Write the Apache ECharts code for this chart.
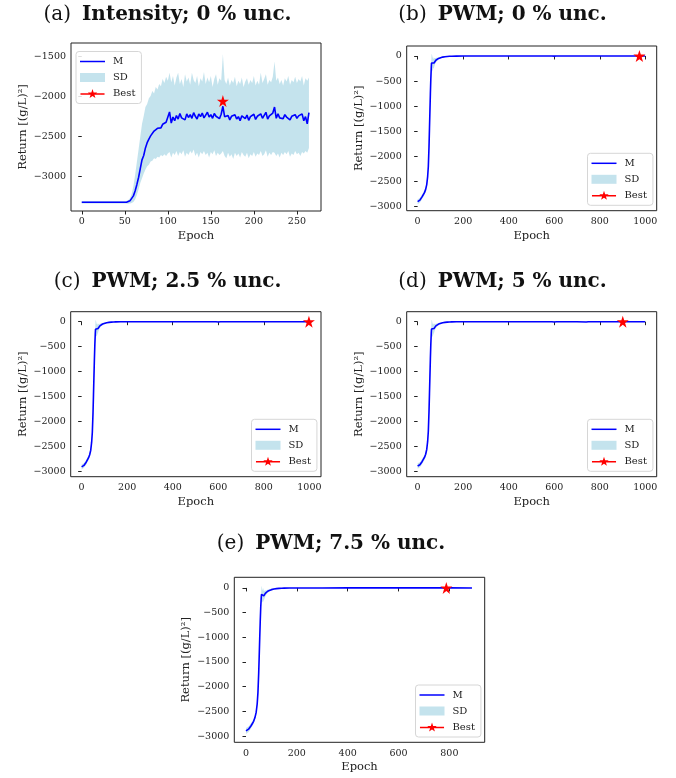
<!DOCTYPE html>
<html><head><meta charset="utf-8">
<script src="https://cdn.jsdelivr.net/npm/echarts@6/dist/echarts.min.js"></script>
<style>html,body{margin:0;padding:0;background:#fff}#c{width:676px;height:778px}</style>
</head><body><div id="c"></div>
<script>
// ---------- Panel (a): Intensity; 0 % unc. ----------
const aEpochs = [
0,2,4,6,8,10,12,14,16,18,20,22,24,26,28,30,32,34,36,38,40,42,44,46,48,50,52,
54,56,58,60,62,64,66,68,70,72,74,76,78,80,82,84,86,88,90,92,94,96,98,100,
102,104,106,108,110,112,114,116,118,120,122,124,126,128,130,132,134,136,138,140,
142,144,146,148,150,152,154,156,158,160,162,164,166,168,170,172,174,176,178,180,
182,184,186,188,190,192,194,196,198,200,202,204,206,208,210,212,214,216,218,220,
222,224,226,228,230,232,234,236,238,240,242,244,246,248,250,252,254,256,258,260,
262,264];
const aMean = [
-3320,-3320,-3320,-3320,-3320,-3320,-3320,-3320,-3320,-3320,-3320,-3320,-3320,-3320,-3320,-3320,-3320,-3320,-3320,-3320,-3320,-3320,-3320,-3320,-3320,-3320,-3320,
-3316,-3302,-3278,-3240,-3180,-3100,-3010,-2900,-2790,-2735,-2640,-2575,-2530,-2490,-2475,-2430,-2440,-2395,-2380,-2390,-2345,-2360,-2320,-2300,
-2190,-2330,-2255,-2300,-2235,-2280,-2210,-2265,-2240,-2290,-2215,-2260,-2225,-2270,-2200,-2245,-2280,-2215,-2250,-2205,
-2265,-2230,-2195,-2255,-2225,-2270,-2210,-2245,-2230,-2275,-2220,-2120,-2250,-2270,-2235,-2290,-2245,-2265,-2225,-2280,
-2250,-2300,-2240,-2260,-2275,-2230,-2295,-2250,-2265,-2220,-2285,-2245,-2260,-2215,-2270,-2250,-2195,-2280,-2240,-2260,
-2205,-2130,-2270,-2215,-2265,-2240,-2275,-2225,-2255,-2230,-2290,-2245,-2260,-2225,-2270,-2240,-2265,-2215,-2300,-2250,
-2340,-2200];
const aUpper = [
-3305,-3305,-3305,-3305,-3305,-3305,-3305,-3305,-3305,-3305,-3305,-3305,-3305,-3305,-3305,-3305,-3305,-3305,-3305,-3305,-3305,-3305,-3305,-3305,-3305,-3305,-3305,
-3295,-3270,-3215,-3120,-2980,-2820,-2660,-2500,-2340,-2240,-2130,-2090,-2020,-1990,-1930,-1960,-1880,-1910,-1840,-1870,-1780,-1830,-1750,-1800,
-1700,-1820,-1740,-1860,-1760,-1700,-1840,-1780,-1880,-1720,-1810,-1760,-1850,-1700,-1790,-1830,-1740,-1870,-1770,-1810,
-1690,-1840,-1760,-1820,-1740,-1880,-1780,-1720,-1850,-1770,-1800,-1470,-1790,-1840,-1760,-1860,-1790,-1830,-1750,-1870,
-1800,-1840,-1760,-1880,-1810,-1770,-1850,-1790,-1830,-1740,-1860,-1800,-1850,-1700,-1830,-1780,-1720,-1850,-1790,-1820,
-1750,-1560,-1800,-1760,-1840,-1790,-1860,-1770,-1810,-1740,-1850,-1790,-1820,-1750,-1830,-1780,-1810,-1740,-1860,-1770,
-1800,-1760];
const aLower = [
-3335,-3335,-3335,-3335,-3335,-3335,-3335,-3335,-3335,-3335,-3335,-3335,-3335,-3335,-3335,-3335,-3335,-3335,-3335,-3335,-3335,-3335,-3335,-3335,-3335,-3335,-3335,
-3338,-3336,-3330,-3315,-3285,-3230,-3160,-3080,-3020,-2960,-2910,-2870,-2850,-2810,-2800,-2770,-2780,-2750,-2760,-2730,-2745,-2720,-2740,-2710,
-2690,-2760,-2700,-2730,-2680,-2740,-2690,-2720,-2670,-2750,-2700,-2730,-2680,-2710,-2660,-2740,-2700,-2760,-2690,-2720,
-2680,-2730,-2700,-2760,-2690,-2720,-2670,-2740,-2700,-2730,-2710,-2680,-2740,-2770,-2700,-2750,-2720,-2780,-2700,-2740,
-2710,-2760,-2690,-2730,-2750,-2700,-2770,-2720,-2740,-2690,-2750,-2710,-2730,-2680,-2740,-2720,-2670,-2750,-2700,-2730,
-2690,-2700,-2740,-2710,-2760,-2700,-2730,-2690,-2720,-2680,-2750,-2710,-2730,-2680,-2720,-2700,-2740,-2690,-2710,-2680,
-2700,-2640];
const aBest = [164, -2055];
const aXTicks = [0, 50, 100, 150, 200, 250];
const aYTicks = [-3000, -2500, -2000, -1500];

// ---------- PWM panels (b), (c), (d) share epoch samples ----------
const pwmEpochs = [0,10,20,30,35,40,44,47,50,52,54,56,58,60,61,62,64,66,68,70,72,74,76,78,80,84,88,92,96,100,110,120,130,140,150,170,200,300,400,500,590,600,610,700,740,750,760,800,900,999];

// (b) PWM; 0 % unc.
const bMean = [-2900,-2870,-2800,-2720,-2660,-2560,-2400,-2200,-1800,-1450,-1100,-750,-450,-220,-140,-120,-150,-160,-140,-150,-140,-120,-105,-95,-85,-70,-58,-48,-40,-33,-22,-14,-9,-6,-4,-2,-1,0,0,0,0,-2,0,0,0,0,0,0,0,0];
const bUpper = [-2850,-2825,-2755,-2675,-2615,-2510,-2345,-2135,-1720,-1370,-1020,-670,-370,-100,30,40,10,-40,-20,-60,-50,-40,-40,-45,-40,-35,-30,-25,-22,-18,-12,-7,-4,-2,-1,0,1,2,2,2,2,2,2,2,2,2,2,2,2,2];
const bLower = [-2950,-2915,-2845,-2765,-2705,-2610,-2455,-2265,-1880,-1530,-1180,-830,-530,-340,-310,-280,-310,-280,-260,-240,-230,-200,-170,-145,-130,-105,-86,-71,-58,-48,-32,-21,-14,-10,-7,-4,-3,-2,-2,-2,-2,-6,-2,-2,-2,-2,-2,-2,-2,-2];
const bBest = [974, 0];

// (c) PWM; 2.5 % unc.
const cMean = [-2905,-2875,-2810,-2725,-2665,-2570,-2410,-2210,-1820,-1470,-1110,-760,-460,-230,-150,-125,-145,-165,-145,-150,-135,-118,-102,-92,-83,-68,-56,-46,-38,-31,-20,-13,-8,-5,-3,-2,-1,0,0,0,0,-6,-1,0,0,0,0,0,0,0];
const cUpper = [-2855,-2830,-2765,-2680,-2620,-2520,-2355,-2145,-1740,-1390,-1030,-680,-380,-110,35,30,0,-50,-30,-60,-50,-45,-40,-45,-40,-34,-29,-24,-21,-17,-11,-6,-3,-2,-1,0,1,2,2,2,2,-1,2,2,2,2,2,2,2,2];
const cLower = [-2955,-2920,-2855,-2770,-2710,-2620,-2465,-2275,-1900,-1550,-1190,-840,-540,-350,-300,-270,-290,-290,-270,-240,-220,-190,-165,-140,-126,-102,-83,-68,-55,-45,-29,-20,-13,-8,-5,-4,-3,-2,-2,-2,-2,-11,-4,-2,-2,-2,-2,-2,-2,-2];
const cBest = [998, 0];

// (d) PWM; 5 % unc.
const dMean = [-2885,-2860,-2795,-2715,-2655,-2555,-2395,-2190,-1790,-1440,-1090,-740,-440,-215,-145,-120,-150,-165,-150,-145,-135,-118,-104,-94,-84,-69,-57,-47,-39,-32,-21,-13,-8,-5,-3,-2,-1,0,0,0,0,-6,-1,0,-6,-1,0,0,0,0];
const dUpper = [-2830,-2810,-2745,-2665,-2605,-2505,-2340,-2125,-1710,-1360,-1010,-660,-360,-90,40,35,5,-45,-30,-55,-50,-42,-40,-44,-40,-34,-29,-24,-21,-17,-11,-6,-3,-2,-1,0,1,2,2,2,2,-1,2,2,-1,2,2,2,2,2];
const dLower = [-2940,-2910,-2845,-2765,-2705,-2605,-2450,-2255,-1870,-1520,-1170,-820,-520,-340,-320,-290,-300,-290,-270,-240,-225,-195,-168,-144,-128,-104,-85,-70,-57,-47,-31,-20,-13,-8,-5,-4,-3,-2,-2,-2,-2,-11,-4,-2,-11,-4,-2,-2,-2,-2];
const dBest = [901, 0];

// (e) PWM; 7.5 % unc.
const eEpochs = [0,10,20,30,35,40,44,47,50,52,54,56,58,60,61,62,64,66,68,70,72,74,76,78,80,84,88,92,96,100,110,120,130,140,150,170,200,300,400,500,600,700,800,889];
const eMean = [-2895,-2860,-2790,-2700,-2630,-2520,-2350,-2120,-1720,-1380,-1020,-680,-390,-190,-130,-125,-155,-150,-140,-160,-145,-125,-110,-98,-88,-72,-60,-50,-42,-35,-23,-15,-10,-7,-5,-3,-2,-1,0,0,0,0,0,-2];
const eUpper = [-2835,-2805,-2740,-2650,-2580,-2470,-2290,-2050,-1640,-1300,-940,-600,-310,-80,40,30,-20,-50,0,-60,-60,-50,-45,-50,-45,-38,-32,-27,-23,-19,-13,-8,-5,-3,-2,-1,0,1,1,1,1,1,1,0];
const eLower = [-2955,-2915,-2840,-2750,-2680,-2570,-2410,-2190,-1800,-1460,-1100,-760,-470,-300,-300,-280,-290,-270,-280,-250,-230,-200,-175,-146,-131,-106,-88,-73,-61,-51,-33,-22,-15,-11,-8,-5,-4,-3,-1,-1,-1,-1,-1,-4];
const eBest = [788, 0];

const pwmXTicks = [0, 200, 400, 600, 800, 1000];
const eXTicks = [0, 200, 400, 600, 800];
const pwmYTicks = [-3000, -2500, -2000, -1500, -1000, -500, 0];

// ---------- chart ----------
const SERIF = '"DejaVu Serif", serif';
const BAND = 'rgba(173,216,230,0.72)';
const LINE = '#0000ff';
const STAR = 'path://M50,0 L61.2,34.5 L97.6,34.5 L68.2,55.9 L79.4,90.5 L50,69.1 L20.6,90.5 L31.8,55.9 L2.4,34.5 L38.8,34.5 Z';
const ICON_M = 'path://M0,0 L30,0 L30,1.8 L0,1.8 Z';
const ICON_BEST = 'path://M0,5.3 L30,5.3 L30,7.1 L0,7.1 Z M15,0 L16.41,4.26 L20.9,4.28 L17.28,6.94 L18.64,11.22 L15,8.6 L11.36,11.22 L12.72,6.94 L9.1,4.28 L13.59,4.26 Z';
const TXT = '#222';

const panels = [
  {label:'(a)', bold:'Intensity; 0 % unc.', tx:167.5, ty:15,
   grid:{left:71, top:43, width:250, height:168}, x:[-12.5, 278], y:[-3429, -1329],
   xt:aXTicks, yt:aYTicks, ep:aEpochs, m:aMean, up:aUpper, lo:aLower, best:aBest, lg:{left:76, top:51.5}},
  {label:'(b)', bold:'PWM; 0 % unc.', tx:502.5, ty:15,
   grid:{left:406.7, top:46, width:250, height:164.7}, x:[-48, 1050], y:[-3080, 199],
   xt:pwmXTicks, yt:pwmYTicks, ep:pwmEpochs, m:bMean, up:bUpper, lo:bLower, best:bBest, lg:{left:587.5, top:153.3}},
  {label:'(c)', bold:'PWM; 2.5 % unc.', tx:167.5, ty:281.7,
   grid:{left:70.7, top:311.7, width:250.3, height:165}, x:[-48, 1051], y:[-3100, 200],
   xt:pwmXTicks, yt:pwmYTicks, ep:pwmEpochs, m:cMean, up:cUpper, lo:cLower, best:cBest, lg:{left:251.5, top:419.3}},
  {label:'(d)', bold:'PWM; 5 % unc.', tx:502.5, ty:281.7,
   grid:{left:406.7, top:311.7, width:250, height:165}, x:[-48, 1050], y:[-3100, 200],
   xt:pwmXTicks, yt:pwmYTicks, ep:pwmEpochs, m:dMean, up:dUpper, lo:dLower, best:dBest, lg:{left:587.5, top:419.3}},
  {label:'(e)', bold:'PWM; 7.5 % unc.', tx:331, ty:543.3,
   grid:{left:234.3, top:577.3, width:250.4, height:165}, x:[-46, 939], y:[-3125, 215],
   xt:eXTicks, yt:pwmYTicks, ep:eEpochs, m:eMean, up:eUpper, lo:eLower, best:eBest, lg:{left:415.5, top:685}}
];

const fmt = v => String(v).replace('-', '\u2212');
const option = {animation:false, backgroundColor:'#fff', grid:[], xAxis:[], yAxis:[], series:[], legend:[], graphic:[]};

panels.forEach((p, i) => {
  option.grid.push(Object.assign({show:true, borderColor:'#222', borderWidth:1, backgroundColor:'transparent'}, p.grid));
  option.xAxis.push({type:'value', gridIndex:i, min:p.x[0], max:p.x[1],
    name:'Epoch', nameLocation:'middle', nameGap:19,
    nameTextStyle:{fontFamily:SERIF, fontSize:11.5, color:TXT},
    axisLine:{show:false}, splitLine:{show:false},
    axisTick:{show:true, length:3.5, inside:false, lineStyle:{color:'#222'}, customValues:p.xt},
    axisLabel:{fontFamily:SERIF, fontSize:9.5, color:TXT, margin:6, customValues:p.xt, formatter:fmt}});
  option.yAxis.push({type:'value', gridIndex:i, min:p.y[0], max:p.y[1],
    name:'Return [(g/L)\u00b2]', nameLocation:'middle', nameGap:42, nameRotate:90,
    nameTextStyle:{fontFamily:SERIF, fontSize:11.5, color:TXT},
    axisLine:{show:false}, splitLine:{show:false},
    axisTick:{show:true, length:3.5, inside:false, lineStyle:{color:'#222'}, customValues:p.yt},
    axisLabel:{fontFamily:SERIF, fontSize:9.5, color:TXT, margin:5, customValues:p.yt, formatter:fmt}});

  const ep = p.ep, up = p.up, lo = p.lo;
  option.series.push({
    type:'custom', name:'SD', xAxisIndex:i, yAxisIndex:i, z:1,
    itemStyle:{color:BAND},
    data: ep.map((e, k) => [e, lo[k], up[k]]),
    encode:{x:0, y:[1, 2]},
    renderItem:function(params, api){
      if (params.dataIndexInside !== 0) return null;
      const pts = [];
      for (let k = 0; k < ep.length; k++) pts.push(api.coord([ep[k], up[k]]));
      for (let k = ep.length - 1; k >= 0; k--) pts.push(api.coord([ep[k], lo[k]]));
      return {type:'polygon', shape:{points:pts}, style:{fill:BAND}};
    }
  });
  option.series.push({
    type:'line', name:'M', xAxisIndex:i, yAxisIndex:i, z:3,
    symbol:'none', showSymbol:false,
    lineStyle:{color:LINE, width:1.6}, itemStyle:{color:LINE},
    data: ep.map((e, k) => [e, p.m[k]])
  });
  option.series.push({
    type:'line', name:'Best', xAxisIndex:i, yAxisIndex:i, z:5,
    symbol:STAR, symbolSize:12, showSymbol:true,
    lineStyle:{color:'#ff0000', width:1.5}, itemStyle:{color:'#ff0000'},
    data:[p.best]
  });
  option.legend.push({
    orient:'vertical', left:p.lg.left, top:p.lg.top,
    padding:[5, 6, 5, 4], itemGap:6, itemWidth:25, itemHeight:9,
    borderColor:'#d6d6d6', borderWidth:1, borderRadius:3, backgroundColor:'rgba(255,255,255,0.85)',
    selectedMode:false, symbolKeepAspect:true,
    textStyle:{fontFamily:SERIF, fontSize:10, color:TXT, padding:[0,0,0,3]},
    data:[{name:'M', icon:ICON_M}, {name:'SD', icon:'rect'}, {name:'Best', icon:ICON_BEST}]
  });
  option.graphic.push({
    type:'text', x:p.tx, y:p.ty, z:10,
    style:{
      text:'{n|' + p.label + '}{b|' + p.bold + '}',
      align:'center', verticalAlign:'middle',
      rich:{
        n:{fontFamily:SERIF, fontSize:20, fontWeight:'normal', fill:'#111', padding:[0,11,0,0]},
        b:{fontFamily:SERIF, fontSize:20, fontWeight:'bold', fill:'#111'}
      }
    }
  });
});

const chart = echarts.init(document.getElementById('c'), null, {renderer:'canvas'});
chart.setOption(option);
</script>
</body></html>
